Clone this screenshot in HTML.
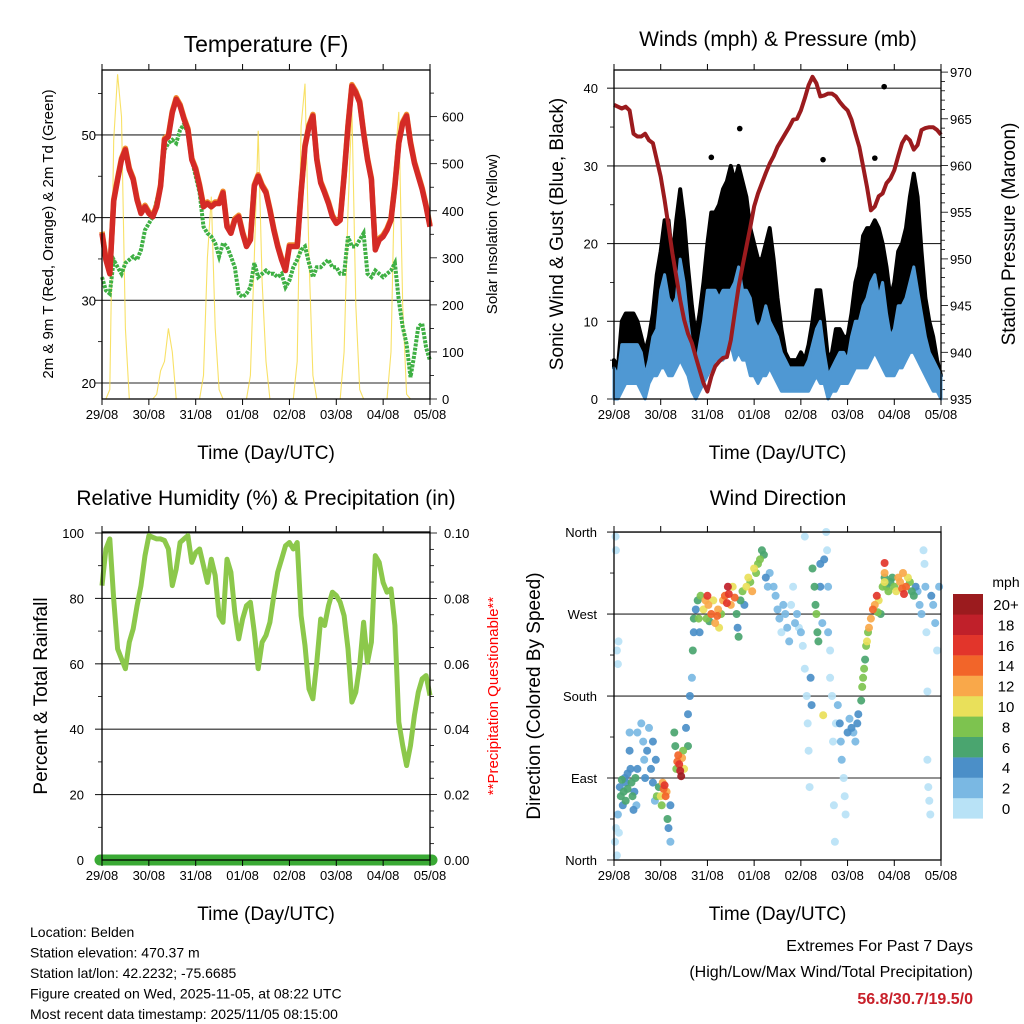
<!DOCTYPE html>
<html><head><meta charset="utf-8"><style>
html,body{margin:0;padding:0;background:#fff;}
svg{display:block;font-family:"Liberation Sans",Arial,sans-serif;}
</style></head><body>
<svg id="s" width="1024" height="1024" viewBox="0 0 1024 1024" xmlns="http://www.w3.org/2000/svg"></svg>
<script>
// ---- data (2-hour steps over 7 days, 85 samples) ----
const dayLabels = ["29/08","30/08","31/08","01/08","02/08","03/08","04/08","05/08"];
const tempRed = [38.1,34.9,33.2,42,44.6,47,48.2,45.8,44.6,42.1,40.5,41.3,40.5,40.1,41.3,43.8,49.4,49.8,52.7,54.3,53.5,51.9,50.6,47,45.8,43.8,41.3,41.7,41.3,41.7,41.7,43,38.9,38.1,39.7,40.1,38.1,36.5,37.3,43.8,45,43.8,43,40.9,38.5,36.5,34.9,33.6,36.5,36.5,36.5,43,48.6,51,52.3,47,44.2,43,41.7,40.1,39.3,39.7,45,51,55.9,55.1,53.9,50.2,47,44.6,36.1,37.3,37.7,38.5,39.7,43.8,49,51.4,52.3,49,46.6,45,43.4,41.3,38.9];
const dewGreen = [32.8,31.2,30.8,34.9,34,33.2,34.5,34.9,35.3,34.9,36.1,38.5,39.3,40.1,42.1,43.8,48.2,49,49.4,49,50.6,51.3,50.2,47,45,43,38.9,38.1,37.7,36.9,35.3,36.9,36.5,35.3,34,30.8,30.4,30.8,31.6,34.5,32.8,33.2,33.6,33.2,33.2,32.8,33.2,31.6,32.4,34,34.9,36.1,36.5,34.5,32.8,34,34,34.5,34.9,34,34,33.2,33.2,37.7,36.5,36.5,37.3,38.1,33.2,32.8,33.6,33.2,32.8,33.2,33.6,34.5,30,26.8,24.7,20.7,23.5,26.8,27.2,24.3,22.7];
const solar = [0,0,20,550,690,600,150,0,0,0,0,0, 0,0,10,60,80,150,100,0,0,0,0,0, 0,0,50,300,430,150,20,0,0,0,0,0, 0,0,50,300,570,250,80,0,0,0,0,0, 0,0,80,580,670,300,50,0,0,0,0,0, 0,0,100,400,620,200,20,0,0,0,0,0, 0,0,100,500,610,200,10,0,0,0,0,0, 0];
const pressure = [966.5,966.3,966.1,966.3,965.9,963.4,963.1,963.1,963.4,962.7,962.4,960.6,958.8,956.3,953.5,950.6,948.1,945.6,943.5,942,941,939.5,938.1,936.7,935.8,937.4,938.5,939,939.4,939.5,941.3,944.2,947,949.2,951.3,953.4,955.6,957,958.1,959.2,960.2,961,962,962.7,963.4,964.1,964.9,965,965.9,967.2,968.6,969.5,968.8,967.4,967.5,967.7,967.7,967.4,966.8,966.3,965.9,964.9,963.4,962,959.9,957.7,955.2,955.6,956.7,957,958.1,958.6,959.5,961,962.4,963.1,962.7,961.7,962.2,963.8,964,964.1,964.1,963.8,963.3];
const windLo = [0,0,1,2,2,2,2,1,0,2,3,3,4,4,3,3,4,5,4,3,1,0,1,2,3,4,5,5,5,6,7,5,6,5,5,3,3,2,3,3,4,3,2,1,1,1,1,1,1,1,1,2,3,2,2,0,1,1,2,2,2,3,4,4,4,4,5,6,5,4,3,3,3,4,4,5,6,6,5,4,3,2,1,1,0];
const windHi = [4,3,7,7,7,7,7,6,3,5,8,9,14,16,13,12,13,18,15,10,6,4,7,10,14,14,14,13,14,14,14,15,17,14,14,13,10,9,10,12,10,9,8,6,5,4,4,4,4,4,5,7,9,10,6,3,4,5,6,6,5,8,10,10,12,13,15,16,13,15,11,8,9,12,12,13,15,17,14,11,8,6,5,4,3];
const gustHi = [5,4,10,11,11,11,10,8,6,8,11,16,19,23,23,18,23,27,23,17,12,8,11,15,20,24,24,25,27,28,30,28,30,28,26,22,20,18,18,20,22,18,13,9,6,5,5,5,6,5,7,10,14,14,10,5,6,9,9,8,8,11,15,17,21,22,22,23,22,20,17,13,15,19,20,22,26,29,26,19,13,10,8,5,3];
const gustOutHour = [64.6,50,107.4,134,138.8];
const gustOutVal = [34.8,31.1,30.8,31,40.2];
const rh = [83.9,95.1,98.2,79.8,64.6,61.5,58.5,66.6,70.7,77.8,83.9,93.1,99.2,98.7,98.2,98.2,97.7,95.1,83.9,89,97.1,98.2,99.2,91,94,95.1,90,84.9,92,87,74.7,72.7,92,88,75.8,67.6,73.7,77.8,78.8,69.7,58.5,66.6,68.7,72.7,80.9,88,92,96.1,97.1,95.1,97.1,74.7,65.6,52.3,49.3,60.5,73.7,71.7,77.8,81.9,80.9,78.8,74.7,64.6,48.3,51.3,59.5,72.7,60.5,66.6,93.1,91,84.9,81.9,82.9,71.7,42.2,35,28.9,35,44.2,51.3,55.4,56.4,50.3];
const precip = [0,0];
// wind direction points: hour, degrees, speed
const dirHour = [0.5,1,1.5,1,0.8,2,2.5,1.5,2,2.3,3,3.5,4,4.5,5,5.5,6,6,7,7,8,8,8.5,9,9.5,10,10.5,11,11.5,12,12,
14,15,15.5,16,17,18,19,20,20,21,21.5,22,
23,24,24.5,25,25.5,26,26.5,27,27.5,28,29,29,
31,31.5,32,32.5,33,33.5,34,34.5,35,35.5,36,37,38,38,39,
40,40.5,41,41,42,43,43.5,44,44.5,
46,47,47.5,48,48.5,49,50,51,52,53,53.5,54,55,56,57,58,58.5,59,60,61,62,63,63.5,64,65,66,67,68,69,70,71,72,73,
74,75,76,77,78,79,
80,82,83,84,85,86,87,88,89,90,91,92,93,94,95,96,97,
98,99,99.5,100,100.5,98,101,101.5,
102,103,103.5,104,104.5,105,106,106,107,108,
109,109.5,110,110,111,111,112,112.5,113,113.5,114,
115,116,116.5,117,118,118.5,119,120,121,122,123,124,125,125.5,
127,127.5,128,128.5,129,129.5,130,130.5,131,
132,133,134,135,135.5,136,137,138,139,140,141,
142,143,144,145,146,147,148,148.5,149,150,151,152,153,154,
155,156,157,158,159,159.5,160,160.5,161,161,161.5,162,162.5,163,164,165,166,167,
107.5,139,139,139];
const dirDeg = [20,35,5,340,355,50,30,230,215,240,80,70,88,60,75,90,85,65,78,95,140,120,100,85,70,55,75,90,60,140,100,
150,130,110,90,120,145,100,130,85,65,110,70,
80,70,60,85,78,82,70,75,45,35,20,60,
140,125,100,108,115,105,98,92,112,120,100,145,160,125,180,
200,230,250,265,275,285,265,250,290,
275,285,265,290,280,262,270,285,260,268,275,255,270,285,290,282,300,292,280,300,288,270,255,245,285,295,280,300,310,305,295,320,315,
325,330,340,335,310,300,
315,300,290,275,265,250,280,270,255,240,280,300,260,270,255,250,235,
210,180,150,120,80,355,200,170,
320,300,280,270,250,240,300,325,260,330,
360,340,300,250,230,200,180,130,60,20,150,
170,150,130,110,90,70,50,140,155,145,140,130,150,160,
175,190,200,210,220,235,240,250,255,
265,275,280,290,272,285,270,300,310,300,295,
305,310,300,295,310,305,298,315,292,300,310,305,295,290,
300,295,280,270,340,325,300,250,185,110,80,65,50,290,280,260,230,300,
159,326,315,305];
const dirSpeed = [1,1,0.5,0.5,1,2,1,1,1,0.5,5,6,7,5,6,4,5,7,6,5,3,4,5,7,6,4,5,6,3,2,5,
3,3,2,5,4,3,4,4,5,3,4,8,
7,11,8,13,15,17,14,12,6,4,2,4,
6,7,9,14,15,17,18,20,13,8,10,5,4,6,4,
3,6,4,6,5,7,9,4,9,
10,12,8,16,12,6,14,10,12,15,13,10,8,12,15,16,18,17,13,10,14,6,5,6,7,8,4,10,11,9,12,10,8,
8,9,7,6,5,3,
3,2,2,2,3,1,2,3,2,2,1,1,2,3,1,2,1,
1,0.5,1,1,0.5,0.5,4,4,
7,6,7,8,7,6,5,4,3,4,
1,1,2,2,1,1,1,1,0.5,0.5,1,
3,4,2,2,1,1,1,4,3,4,2,3,4,5,
7,8,9,8,7,9,10,8,12,
13,14,12,16,9,11,7,9,6,7,9,
7,6,8,11,12,13,14,12,17,15,10,8,7,6,
4,3,2,2,1,1,3,1,1,1,1,1,1,4,3,2,1,2,
10,16,13,10];
const speedColors = ["#b8e2f6","#7ab8e3","#4b8fc8","#4aa56f","#7dc34f","#e9e05a","#f9a84a","#f26529","#e2352b","#c0202a","#9b1b1e"];
const speedLabels = ["0","2","4","6","8","10","12","14","16","18","20+"];
const tempTicks=[20,30,40,50], solarTicks=[0,100,200,300,400,500,600];
const windTicks=[0,10,20,30,40], presTicks=[935,940,945,950,955,960,965,970];
const rhTicks=[0,20,40,60,80,100], prTicks=["0.00","0.02","0.04","0.06","0.08","0.10"];
const dirTicks=["North","East","South","West","North"];

// ---- helpers ----
const S=document.getElementById('s'), NS="http://www.w3.org/2000/svg";
function mk(tag,attrs,parent){const e=document.createElementNS(NS,tag);for(const k in attrs)e.setAttribute(k,attrs[k]);(parent||S).appendChild(e);return e;}
function txt(x,y,t,size,anchor,extra){const e=mk('text',Object.assign({x:x,y:y,'font-size':size,'text-anchor':anchor||'middle',fill:'#000'},extra||{}));e.textContent=t;return e;}
const P={t:{x0:102,x1:430,y0:70,y1:399},w:{x0:614,x1:941,y0:70,y1:399},r:{x0:102,x1:430,y0:532,y1:860},d:{x0:614,x1:941,y0:532,y1:860}};
function sx(p,h){return p.x0+h/168*(p.x1-p.x0);}
const yT=v=>383-(v-20)*8.27, yS=v=>399-v*0.4706, yW=v=>399-v*7.77, yP=v=>399-(v-935)*9.34, yR=v=>860-v*3.27, yD=v=>860-v*0.911;
function idxH(i){return i*2;}
function poly(p,arr,yf){return arr.map((v,i)=>sx(p,idxH(i)).toFixed(1)+','+yf(v).toFixed(1)).join(' ');}

function frame(p,name){
  const r=mk('rect',{x:p.x0,y:p.y0,width:p.x1-p.x0,height:p.y1-p.y0,fill:'none',stroke:'#000','stroke-width':1.3});
  
  
  dayLabels.forEach((d,i)=>{const x=p.x0+i*(p.x1-p.x0)/7;
    mk('line',{x1:x,x2:x,y1:p.y1,y2:p.y1+6,stroke:'#000','stroke-width':1});
    mk('line',{x1:x,x2:x,y1:p.y0,y2:p.y0-6,stroke:'#000','stroke-width':1});
    const t=txt(x,p.y1+20,d,13);
    
    
  });
  const xl=txt((p.x0+p.x1)/2,p.y1+60,'Time (Day/UTC)',19);
  
  
}
function grid(p,y){mk('line',{x1:p.x0-7,x2:p.x1,y1:y,y2:y,stroke:'#000','stroke-width':1.1,opacity:0.85});}
function rtick(p,y,len){mk('line',{x1:p.x1,x2:p.x1+len,y1:y,y2:y,stroke:'#000','stroke-width':0.8});}
function ltick(p,y,len){mk('line',{x1:p.x0-len,x2:p.x0,y1:y,y2:y,stroke:'#000','stroke-width':0.8});}
function vtitle(x,y,t,size,extra){const e=txt(x,y,t,size,'middle',Object.assign({transform:'rotate(-90 '+x+' '+y+')'},extra||{}));return e;}

// ---- Temperature panel ----
tempTicks.forEach(v=>{grid(P.t,yT(v));const t=txt(96,yT(v)+5,String(v),13,'end');});
[25,35,45,55].forEach(v=>ltick(P.t,yT(v),4));
for(let v=0;v<=650;v+=50){rtick(P.t,yS(v),v%100===0?7:4);}
solarTicks.forEach(v=>{const t=txt(442,yS(v)+5,String(v),13,'start');});
let e=mk('polyline',{points:poly(P.t,solar,yS),fill:'none',stroke:'#f7dc4c','stroke-width':1.1,opacity:0.85});

e=mk('polyline',{points:poly(P.t,dewGreen,yT),fill:'none',stroke:'#3fb044','stroke-width':4,'stroke-dasharray':'3 1.2'});

e=mk('polyline',{points:poly(P.t,tempRed,v=>yT(v)-1.5),fill:'none',stroke:'#f08a2c','stroke-width':5.5,'stroke-linejoin':'round'});

e=mk('polyline',{points:poly(P.t,tempRed,yT),fill:'none',stroke:'#d42a26','stroke-width':5.5,'stroke-linejoin':'round'});

frame(P.t,'temperature');
e=txt(266,52,'Temperature (F)',23);
e=vtitle(53,234,'2m & 9m T (Red, Orange) & 2m Td (Green)',15);
e=vtitle(497,234,'Solar Insolation (Yellow)',15);

// ---- Winds panel ----
windTicks.forEach(v=>{grid(P.w,yW(v));const t=txt(598,yW(v)+5,String(v),13,'end');});
[5,15,25,35].forEach(v=>ltick(P.w,yW(v),4));
for(let v=935;v<=970;v++){rtick(P.w,yP(v),v%5===0?7:4);}
presTicks.forEach(v=>{const t=txt(950,yP(v)+5,String(v),13,'start');});
function band(p,lo,hi,yf){const a=hi.map((v,i)=>sx(p,idxH(i)).toFixed(1)+','+yf(v).toFixed(1));const b=lo.map((v,i)=>sx(p,idxH(i)).toFixed(1)+','+yf(v).toFixed(1)).reverse();return a.concat(b).join(' ');}
e=mk('polygon',{points:band(P.w,windHi,gustHi,yW),fill:'#000',stroke:'#000','stroke-width':4,'stroke-linejoin':'round'});

gustOutHour.forEach((h,i)=>{const c=mk('circle',{cx:sx(P.w,h),cy:yW(gustOutVal[i]),r:2.8,fill:'#000'});
  
  });
e=mk('polygon',{points:band(P.w,windLo,windHi,yW),fill:'#4f98d3',stroke:'#4f98d3','stroke-width':3,'stroke-linejoin':'round'});

e=mk('polyline',{points:poly(P.w,pressure,yP),fill:'none',stroke:'#9b1b1e','stroke-width':4,'stroke-linejoin':'round'});

frame(P.w,'winds');
e=txt(778,46,'Winds (mph) & Pressure (mb)',21);
e=vtitle(563,234,'Sonic Wind & Gust (Blue, Black)',19);
e=vtitle(1015,234,'Station Pressure (Maroon)',19);

// ---- RH panel ----
rhTicks.forEach(v=>{grid(P.r,yR(v));const t=txt(84,yR(v)+5,String(v),13,'end');});
[10,30,50,70,90].forEach(v=>ltick(P.r,yR(v),4));
for(let k=0;k<=20;k++){rtick(P.r,yR(k*5),k%4===0?7:4);}
prTicks.forEach((t,i)=>{const e2=txt(444,yR(i*20)+5,t,13,'start');});
e=mk('polyline',{points:poly(P.r,rh,yR),fill:'none',stroke:'#8cc84b','stroke-width':5,'stroke-linejoin':'round'});

e=mk('line',{x1:sx(P.r,0)-2,x2:sx(P.r,168)+2,y1:yR(precip[0]*1000),y2:yR(precip[1]*1000),stroke:'#3aaa35','stroke-width':11,'stroke-linecap':'round'});

frame(P.r,'humidity');
e=txt(266,505,'Relative Humidity (%) & Precipitation (in)',21);
e=vtitle(47,696,'Percent & Total Rainfall',19);
e=vtitle(498,696,'**Precipitation Questionable**',15,{fill:'#ff0000'});

// ---- Wind direction panel ----
dirTicks.forEach((t,i)=>{const y=yD(i*90);grid(P.d,y);const e2=txt(597,y+5,t,13,'end');});
[45,135,225,315].forEach(v=>ltick(P.d,yD(v),4));
dirHour.map((h,i)=>i).sort((a,b)=>dirSpeed[a]-dirSpeed[b]).forEach(i=>{
  const c=mk('circle',{cx:sx(P.d,dirHour[i]).toFixed(1),cy:yD(dirDeg[i]).toFixed(1),r:4,fill:speedColors[Math.min(10,Math.floor(dirSpeed[i]/2))],opacity:0.92});
  
  
});
frame(P.d,'direction');
e=txt(778,505,'Wind Direction',21);
e=vtitle(540,696,'Direction (Colored By Speed)',19);

// colorbar
e=txt(1006,587,'mph',14);
speedColors.forEach((c,i)=>{const y=594+(10-i)*20.4;
  const r=mk('rect',{x:953,y:y,width:30,height:20.6,fill:c});
  
  
  const t=txt(1006,y+16,speedLabels[i],15);
  
  
});

// footer
["Location: Belden","Station elevation: 470.37 m","Station lat/lon: 42.2232; -75.6685","Figure created on Wed, 2025-11-05, at 08:22 UTC","Most recent data timestamp: 2025/11/05 08:15:00"].forEach((t,i)=>{
  const e2=txt(30,937+i*20.5,t,14,'start');
  
  
});
e=txt(973,951,'Extremes For Past 7 Days',16,'end');
e=txt(973,977,'(High/Low/Max Wind/Total Precipitation)',16,'end');
e=txt(973,1004,'56.8/30.7/19.5/0',16,'end',{fill:'#c8202a','font-weight':'bold'});
</script>
</body></html>
